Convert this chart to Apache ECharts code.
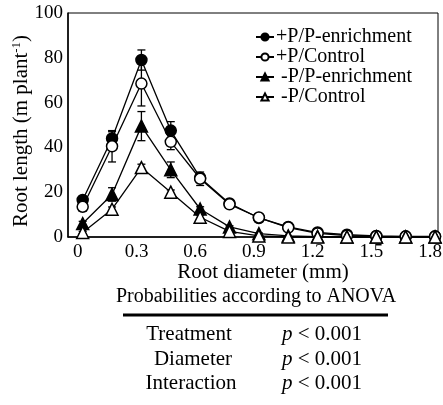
<!DOCTYPE html>
<html>
<head>
<meta charset="utf-8">
<script src="https://cdn.jsdelivr.net/npm/echarts@6/dist/echarts.min.js"></script>
<style>
	html, body { margin: 0; padding: 0; background: #fff; }
	#chart { width: 443px; height: 405px; }
</style>
</head>
<body>
<div id="chart"></div>
<script>
// root diameter classes (mm)
const diameters = [0.025, 0.175, 0.325, 0.475, 0.625, 0.775, 0.925, 1.075, 1.225, 1.375, 1.525, 1.675, 1.825];
const xTicks = [0, 0.3, 0.6, 0.9, 1.2, 1.5, 1.8];

const seriesNames = ['+P/P-enrichment', '+P/Control', ' -P/P-enrichment', ' -P/Control'];
const ppEnrich = [16.5, 44, 79, 47.5, 26.5, 15, 8.5, 4.5, 2, 1, 0.5, 0.3, 0.3];
const ppControl = [13.5, 40.5, 68.5, 42.5, 26, 14.6, 8.7, 4.2, 1.6, 0.6, 0.3, 0.2, 0.2];
const mpEnrich = [6, 19, 49.5, 30, 12.5, 4.5, 1.5, 0.5, 0.2, 0, 0, 0, 0];
const mpControl = [2, 12.4, 31, 20, 8.8, 2.5, 0.5, 0, 0, 0, 0, 0, 0];

const ppEnrichErr = [1.5, 3, 4.5, 4, 1.5, 1, 0.5, 0.5, 0, 0, 0, 0, 0];
const ppControlErr = [2, 7, 10, 3.5, 3, 1, 0.5, 0.5, 0, 0, 0, 0, 0];
const mpEnrichErr = [1, 3, 6.5, 3.5, 1, 0.5, 0.3, 0, 0, 0, 0, 0, 0];
const mpControlErr = [0.5, 1, 1.5, 1, 1, 0.5, 0, 0, 0, 0, 0, 0, 0];

const anovaRows = ['Treatment', 'Diameter', 'Interaction'];
const anovaP = ['< 0.001', '< 0.001', '< 0.001'];

const FONT = '"Liberation Serif", "DejaVu Serif", serif';

function pairs(vals) {
	return diameters.map((d, i) => [d, vals[i]]);
}
function errPairs(vals, errs) {
	return diameters.map((d, i) => [d, vals[i], errs[i]]);
}

function lineSeries(name, vals, symbol, filled, size) {
	return {
		name: name,
		type: 'line',
		data: pairs(vals),
		symbol: symbol,
		symbolSize: size,
		showAllSymbol: true,
		clip: false,
		z: 3,
		lineStyle: { color: '#000', width: 1.3 },
		itemStyle: { color: filled ? '#000' : '#fff', borderColor: '#000', borderWidth: 1.5 },
		emphasis: { disabled: true },
		animation: false
	};
}

function errSeries(vals, errs) {
	return {
		type: 'custom',
		data: errPairs(vals, errs),
		z: 2,
		silent: true,
		animation: false,
		renderItem: function(params, api) {
			let e = api.value(2);
			if (!e) return null;
			let x = api.value(0), y = api.value(1);
			let top = api.coord([x, y + e]);
			let bot = api.coord([x, y - e]);
			let w = 4;
			let st = { stroke: '#000', lineWidth: 1.3 };
			return {
				type: 'group',
				children: [
					{ type: 'line', shape: { x1: top[0], y1: top[1], x2: bot[0], y2: bot[1] }, style: st },
					{ type: 'line', shape: { x1: top[0] - w, y1: top[1], x2: top[0] + w, y2: top[1] }, style: st },
					{ type: 'line', shape: { x1: bot[0] - w, y1: bot[1], x2: bot[0] + w, y2: bot[1] }, style: st }
				]
			};
		}
	};
}

let myChart = echarts.init(document.getElementById('chart'), null, { renderer: 'canvas' });

let graphics = [
	{
		type: 'text', x: 256, y: 297,
		style: { text: 'Probabilities according to ANOVA', font: '20px ' + FONT, fill: '#000', align: 'center', verticalAlign: 'middle' }
	},
	{
		type: 'rect', shape: { x: 123, y: 313.5, width: 265, height: 3 },
		style: { fill: '#000' }
	}
];
let rowY = [334, 359, 383];
let rowX = [189, 193, 191];
for (let i = 0; i < anovaRows.length; i++) {
	graphics.push({
		type: 'text', x: rowX[i], y: rowY[i],
		style: { text: anovaRows[i], font: '21px ' + FONT, fill: '#000', align: 'center', verticalAlign: 'middle' }
	});
	graphics.push({
		type: 'text', x: 282, y: rowY[i],
		style: {
			text: '{i|p} ' + anovaP[i],
			font: '21px ' + FONT, fill: '#000', align: 'left', verticalAlign: 'middle',
			rich: { i: { fontStyle: 'italic', fontSize: 21, fontFamily: FONT } }
		}
	});
}

let option = {
	animation: false,
	backgroundColor: '#fff',
	textStyle: { fontFamily: FONT, color: '#000' },
	grid: {
		left: 68, right: 5, top: 13, bottom: 168,
		show: true, borderColor: '#000', borderWidth: 1,
		containLabel: false,
		outerBoundsMode: 'none'
	},
	legend: {
		data: seriesNames,
		orient: 'vertical',
		left: 250, top: 22,
		itemWidth: 18, itemHeight: 9,
		itemGap: 0,
		textStyle: { fontFamily: FONT, fontSize: 20, color: '#000', lineHeight: 20, padding: [0, 0, 0, -3] },
		selectedMode: false
	},
	xAxis: {
		type: 'value',
		min: -0.05, max: 1.84,
		name: 'Root diameter (mm)',
		nameLocation: 'middle',
		nameGap: 25,
		nameMoveOverlap: false,
		nameTextStyle: { fontFamily: FONT, fontSize: 21, color: '#000', padding: [0, 0, 0, 20] },
		axisLine: { lineStyle: { color: '#000', width: 1.5 } },
		axisTick: { show: false },
		splitLine: { show: false },
		axisLabel: {
			customValues: xTicks,
			fontFamily: FONT, fontSize: 19, color: '#000', margin: 6,
			formatter: v => String(v)
		}
	},
	yAxis: {
		type: 'value',
		min: 0, max: 100, interval: 20,
		name: 'Root length (m plant{sup|-1})',
		nameLocation: 'middle',
		nameGap: 35,
		nameMoveOverlap: false,
		nameTextStyle: {
			fontFamily: FONT, fontSize: 21, color: '#000',
			padding: [0, 12, 0, 0],
			rich: { sup: { fontFamily: FONT, fontSize: 13, color: '#000', padding: [0, 0, 10, 0] } }
		},
		axisLine: { show: true, onZero: false, lineStyle: { color: '#000', width: 1.5 } },
		axisTick: { show: false },
		splitLine: { show: false },
		axisLabel: { fontFamily: FONT, fontSize: 19, color: '#000', margin: 5 }
	},
	graphic: graphics,
	series: [
		errSeries(ppEnrich, ppEnrichErr),
		errSeries(ppControl, ppControlErr),
		errSeries(mpEnrich, mpEnrichErr),
		errSeries(mpControl, mpControlErr),
		lineSeries(seriesNames[0], ppEnrich, 'circle', true, 11),
		lineSeries(seriesNames[1], ppControl, 'circle', false, 11),
		lineSeries(seriesNames[2], mpEnrich, 'triangle', true, 12),
		lineSeries(seriesNames[3], mpControl, 'triangle', false, 12)
	]
};

myChart.setOption(option);
</script>
</body>
</html>
